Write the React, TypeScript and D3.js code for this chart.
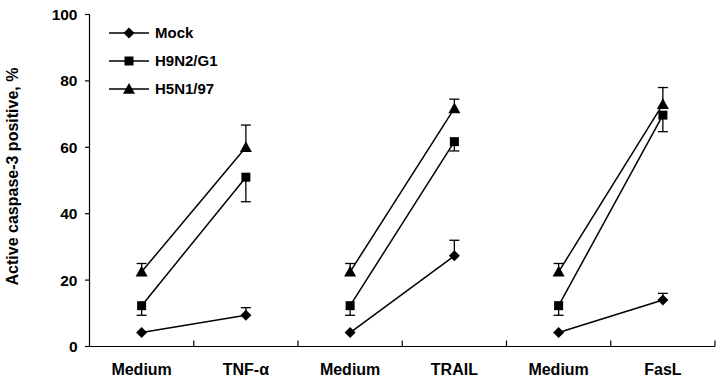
import React from "react";
import * as d3 from "d3";

const categories = ["Medium", "TNF-α", "Medium", "TRAIL", "Medium", "FasL"];
const seriesNames = ["Mock", "H9N2/G1", "H5N1/97"];
const mockValues = [4.2, 9.4, 4.2, 27.3, 4.2, 14];
const mockErrors = [0, 2.3, 0, 4.7, 0, 2];
const h9n2Values = [12.3, 51, 12.3, 61.7, 12.3, 69.7];
const h9n2Errors = [2.9, 7.4, 2.9, 2.8, 2.9, 5];
const h5n1Values = [22.5, 60, 22.5, 71.7, 22.5, 73];
const h5n1Errors = [2.5, 6.7, 2.5, 2.8, 2.5, 5];
const errorDirections = [1, -1, 1]; // up, down, up
const yTicks = [0, 20, 40, 60, 80, 100];
const pairs = [[0, 1], [2, 3], [4, 5]];

const W = 720, H = 380;
const left = 89.5, right = 715, top = 14.5, bottom = 346.5;
const font = "Arial, 'Liberation Sans', sans-serif";

function Marker({ kind, x, y }: { kind: number; x: number; y: number }) {
  if (kind === 0) {
    const s = 5.5;
    return <path d={`M${x},${y - s}L${x + s},${y}L${x},${y + s}L${x - s},${y}Z`} fill="#000" />;
  }
  if (kind === 1) {
    const s = 4.5;
    return <rect x={x - s} y={y - s} width={2 * s} height={2 * s} fill="#000" />;
  }
  const s = 6;
  return <path d={`M${x},${y - s}L${x + s},${y + s * 0.8}L${x - s},${y + s * 0.8}Z`} fill="#000" />;
}

export default function App() {
  const x = d3.scaleBand<number>().domain(d3.range(categories.length)).range([left, right]).padding(0);
  const y = d3.scaleLinear().domain([0, 100]).range([bottom, top]);
  const cx = (i: number) => (x(i) as number) + x.bandwidth() / 2;
  const all = [
    { v: mockValues, e: mockErrors },
    { v: h9n2Values, e: h9n2Errors },
    { v: h5n1Values, e: h5n1Errors },
  ];
  const line = d3.line<[number, number]>();
  const boundaries = d3.range(categories.length + 1).map((i) => left + i * x.bandwidth());

  return (
    <svg width={W} height={H} style={{ position: "absolute", left: 0, top: 0, background: "#fff" }}>
      <rect width={W} height={H} fill="#fff" />
      {/* axes */}
      <line x1={left} x2={left} y1={top} y2={bottom} stroke="#000" strokeWidth={1.2} />
      <line x1={left} x2={right} y1={bottom} y2={bottom} stroke="#000" strokeWidth={1.2} />
      {yTicks.map((t) => (
        <g key={t}>
          <line x1={left - 4.5} x2={left} y1={y(t)} y2={y(t)} stroke="#000" strokeWidth={1.2} />
          <text x={77.5} y={y(t)} dy="0.35em" textAnchor="end" fontFamily={font} fontWeight="bold" fontSize={15.5}>
            {t}
          </text>
        </g>
      ))}
      {boundaries.slice(1).map((b, i) => (
        <line key={i} x1={b} x2={b} y1={bottom} y2={bottom - 6} stroke="#000" strokeWidth={1.2} />
      ))}
      {categories.map((c, i) => (
        <text key={i} x={cx(i)} y={375} textAnchor="middle" fontFamily={font} fontWeight="bold" fontSize={16}>
          {c}
        </text>
      ))}
      <text
        transform={`translate(12,176.5) rotate(-90)`}
        textAnchor="middle"
        dy="0.35em"
        fontFamily={font}
        fontWeight="bold"
        fontSize={16}
      >
        Active caspase-3 positive, %
      </text>
      {/* series */}
      {all.map((s, k) => (
        <g key={k}>
          {pairs.map(([a, b], j) => (
            <path
              key={j}
              d={line([[cx(a), y(s.v[a])], [cx(b), y(s.v[b])]]) as string}
              stroke="#000"
              strokeWidth={1.5}
              fill="none"
            />
          ))}
          {s.v.map((v, i) =>
            s.e[i] > 0 ? (
              <g key={"e" + i}>
                <line
                  x1={cx(i)}
                  x2={cx(i)}
                  y1={y(v)}
                  y2={y(v + errorDirections[k] * s.e[i])}
                  stroke="#000"
                  strokeWidth={1.3}
                />
                <line
                  x1={cx(i) - 5}
                  x2={cx(i) + 5}
                  y1={y(v + errorDirections[k] * s.e[i])}
                  y2={y(v + errorDirections[k] * s.e[i])}
                  stroke="#000"
                  strokeWidth={1.3}
                />
              </g>
            ) : null
          )}
          {s.v.map((v, i) => (
            <Marker key={"m" + i} kind={k} x={cx(i)} y={y(v)} />
          ))}
        </g>
      ))}
      {/* legend */}
      {seriesNames.map((n, k) => {
        const ly = 33 + k * 28;
        return (
          <g key={n}>
            <line x1={109} x2={149} y1={ly} y2={ly} stroke="#000" strokeWidth={1.5} />
            <Marker kind={k} x={129} y={ly} />
            <text x={155} y={ly} dy="0.35em" fontFamily={font} fontWeight="bold" fontSize={15}>
              {n}
            </text>
          </g>
        );
      })}
    </svg>
  );
}
